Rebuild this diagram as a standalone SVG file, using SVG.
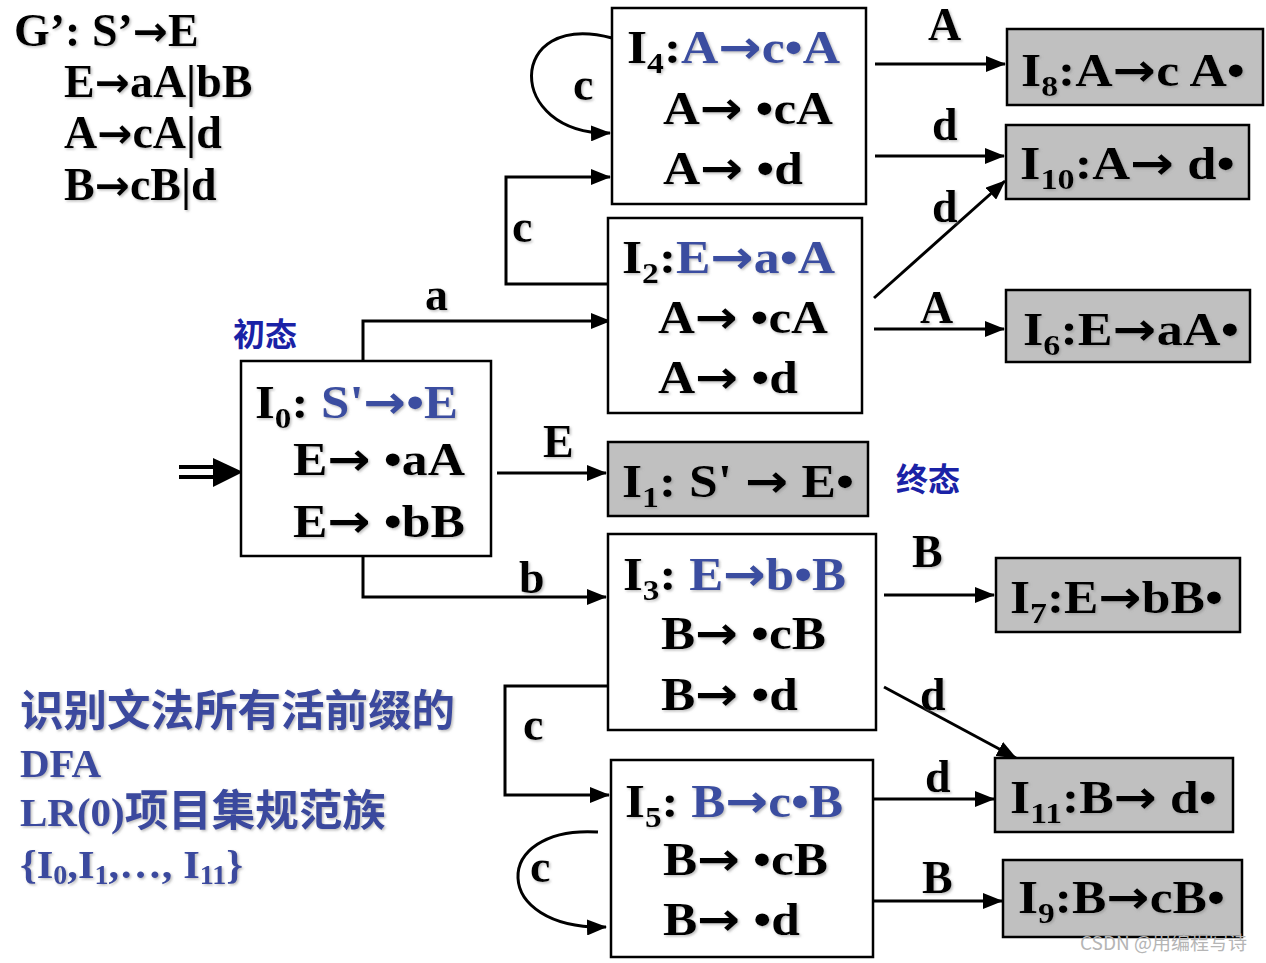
<svg xmlns="http://www.w3.org/2000/svg" width="1266" height="963" viewBox="0 0 1266 963">
<style>
.t{font-family:"Liberation Serif","Times New Roman",serif;font-weight:bold;font-size:46px;fill:#000;filter:url(#sh)}
.g{font-size:46px}
.ga{font-size:42px}
.sub{font-size:30px}
.ar{font-family:"DejaVu Sans",sans-serif;font-weight:bold}
.blue{fill:#3a4ea0}
.lbl{font-family:"Liberation Serif","Times New Roman",serif;font-weight:bold;font-size:46px;fill:#000;filter:url(#sh)}
.cn{font-family:"Noto Sans CJK SC","Noto Sans",sans-serif;font-weight:bold;font-size:32px;fill:#1a22a6}
.note{font-weight:bold;fill:#3a4a9e;filter:url(#sh)}
.ser{font-family:"Liberation Serif","Times New Roman",serif;font-size:41px}
.cjk{font-family:"Noto Sans CJK SC",sans-serif;font-size:43.5px}
.box{fill:#fff;stroke:#000;stroke-width:2.5}
.fin{fill:#c0c0c0;stroke:#000;stroke-width:2.5}
.c{fill:none;stroke:#000;stroke-width:3}
.wm{font-family:"Noto Sans CJK SC","Noto Sans",sans-serif;font-size:19px;fill:#b5b5b5}
</style>
<defs>
<filter id="sh" x="-5%" y="-20%" width="115%" height="150%">
<feDropShadow dx="1.5" dy="1.5" stdDeviation="1" flood-color="#888" flood-opacity="0.55"/>
</filter>
<marker id="ah" viewBox="0 0 20 16" refX="19" refY="8" markerWidth="20" markerHeight="16" markerUnits="userSpaceOnUse" orient="auto">
<path d="M0,0 L20,8 L0,16 z" fill="#000"/>
</marker>
</defs>
<rect width="1266" height="963" fill="#fff"/>

<g id="grammar">
<text class="t g" x="14" y="46">G’: S’<tspan class="ar ga">→</tspan>E</text>
<text class="t g" x="64" y="97">E<tspan class="ar ga">→</tspan>aA|bB</text>
<text class="t g" x="64" y="148">A<tspan class="ar ga">→</tspan>cA|d</text>
<text class="t g" x="64" y="200">B<tspan class="ar ga">→</tspan>cB|d</text>
</g>

<g id="connectors">
<path class="c" d="M363,361 V321 H610" marker-end="url(#ah)"/>
<path class="c" d="M363,556 V597 H606" marker-end="url(#ah)"/>
<path class="c" d="M497,473 H606" marker-end="url(#ah)"/>
<path class="c" d="M608,284 H506 V177 H610" marker-end="url(#ah)"/>
<path class="c" d="M612,38 C505,10 505,135 610,133" marker-end="url(#ah)"/>
<path class="c" d="M613,686 H505 V795 H609" marker-end="url(#ah)"/>
<path class="c" d="M598,832 C490,825 490,930 606,927" marker-end="url(#ah)"/>
<path class="c" d="M875,64 H1005" marker-end="url(#ah)"/>
<path class="c" d="M875,156 H1004" marker-end="url(#ah)"/>
<path class="c" d="M874,298 L1005,181" marker-end="url(#ah)"/>
<path class="c" d="M874,329 H1004" marker-end="url(#ah)"/>
<path class="c" d="M884,595 H994" marker-end="url(#ah)"/>
<path class="c" d="M884,687 L1016,758" marker-end="url(#ah)"/>
<path class="c" d="M873,799 H994" marker-end="url(#ah)"/>
<path class="c" d="M873,901 H1002" marker-end="url(#ah)"/>
<line x1="179" y1="467" x2="216" y2="467" stroke="#000" stroke-width="4"/>
<line x1="179" y1="477" x2="216" y2="477" stroke="#000" stroke-width="4"/>
<path d="M213,458 L243,472 L213,487 z" fill="#000"/>
</g>

<g id="edge-labels">
<text class="lbl" x="425" y="310">a</text>
<text class="lbl" x="543" y="457">E</text>
<text class="lbl" x="519" y="593">b</text>
<text class="lbl" x="512" y="242">c</text>
<text class="lbl" x="573" y="100">c</text>
<text class="lbl" x="523" y="740">c</text>
<text class="lbl" x="530" y="882">c</text>
<text class="lbl" x="928" y="40">A</text>
<text class="lbl" x="932" y="140">d</text>
<text class="lbl" x="932" y="222">d</text>
<text class="lbl" x="920" y="323">A</text>
<text class="lbl" x="912" y="567">B</text>
<text class="lbl" x="920" y="710">d</text>
<text class="lbl" x="925" y="792">d</text>
<text class="lbl" x="922" y="893">B</text>
</g>

<g id="I0">
<rect class="box" x="241" y="361" width="250" height="195"/>
<text class="t" x="255" y="418" textLength="203" lengthAdjust="spacingAndGlyphs">I<tspan class="sub" dy="10">0</tspan><tspan dy="-10">: </tspan><tspan class="blue">S'<tspan class="ar">→</tspan>•E</tspan></text>
<text class="t" x="293" y="475" textLength="172" lengthAdjust="spacingAndGlyphs">E<tspan class="ar">→</tspan> •aA</text>
<text class="t" x="293" y="537" textLength="172" lengthAdjust="spacingAndGlyphs">E<tspan class="ar">→</tspan> •bB</text>
</g>

<g id="I4">
<rect class="box" x="612" y="8" width="254" height="196"/>
<text class="t" x="627" y="63" textLength="213" lengthAdjust="spacingAndGlyphs">I<tspan class="sub" dy="10">4</tspan><tspan dy="-10">:</tspan><tspan class="blue">A<tspan class="ar">→</tspan>c•A</tspan></text>
<text class="t" x="663" y="124" textLength="170" lengthAdjust="spacingAndGlyphs">A<tspan class="ar">→</tspan> •cA</text>
<text class="t" x="663" y="184" textLength="140" lengthAdjust="spacingAndGlyphs">A<tspan class="ar">→</tspan> •d</text>
</g>

<g id="I2">
<rect class="box" x="608" y="218" width="254" height="195"/>
<text class="t" x="622" y="273" textLength="213" lengthAdjust="spacingAndGlyphs">I<tspan class="sub" dy="10">2</tspan><tspan dy="-10">:</tspan><tspan class="blue">E<tspan class="ar">→</tspan>a•A</tspan></text>
<text class="t" x="658" y="333" textLength="170" lengthAdjust="spacingAndGlyphs">A<tspan class="ar">→</tspan> •cA</text>
<text class="t" x="658" y="393" textLength="140" lengthAdjust="spacingAndGlyphs">A<tspan class="ar">→</tspan> •d</text>
</g>

<g id="I1">
<rect class="fin" x="608" y="442" width="260" height="74"/>
<text class="t" x="622" y="497" textLength="232" lengthAdjust="spacingAndGlyphs">I<tspan class="sub" dy="10">1</tspan><tspan dy="-10">: S' </tspan><tspan class="ar">→</tspan> E•</text>
</g>

<g id="I3">
<rect class="box" x="608" y="534" width="268" height="196"/>
<text class="t" x="623" y="590" textLength="223" lengthAdjust="spacingAndGlyphs">I<tspan class="sub" dy="10">3</tspan><tspan dy="-10">: </tspan><tspan class="blue">E<tspan class="ar">→</tspan>b•B</tspan></text>
<text class="t" x="661" y="649" textLength="165" lengthAdjust="spacingAndGlyphs">B<tspan class="ar">→</tspan> •cB</text>
<text class="t" x="661" y="710" textLength="137" lengthAdjust="spacingAndGlyphs">B<tspan class="ar">→</tspan> •d</text>
</g>

<g id="I5">
<rect class="box" x="611" y="760" width="262" height="197"/>
<text class="t" x="625" y="817" textLength="218" lengthAdjust="spacingAndGlyphs">I<tspan class="sub" dy="10">5</tspan><tspan dy="-10">: </tspan><tspan class="blue">B<tspan class="ar">→</tspan>c•B</tspan></text>
<text class="t" x="663" y="875" textLength="165" lengthAdjust="spacingAndGlyphs">B<tspan class="ar">→</tspan> •cB</text>
<text class="t" x="663" y="935" textLength="137" lengthAdjust="spacingAndGlyphs">B<tspan class="ar">→</tspan> •d</text>
</g>

<g id="I8">
<rect class="fin" x="1007" y="29" width="256" height="76"/>
<text class="t" x="1021" y="86" textLength="224" lengthAdjust="spacingAndGlyphs">I<tspan class="sub" dy="10">8</tspan><tspan dy="-10">:A</tspan><tspan class="ar">→</tspan>c A•</text>
</g>

<g id="I10">
<rect class="fin" x="1006" y="125" width="243" height="74"/>
<text class="t" x="1020" y="179" textLength="215" lengthAdjust="spacingAndGlyphs">I<tspan class="sub" dy="10">10</tspan><tspan dy="-10">:A</tspan><tspan class="ar">→</tspan> d•</text>
</g>

<g id="I6">
<rect class="fin" x="1006" y="290" width="244" height="72"/>
<text class="t" x="1023" y="345" textLength="216" lengthAdjust="spacingAndGlyphs">I<tspan class="sub" dy="10">6</tspan><tspan dy="-10">:E</tspan><tspan class="ar">→</tspan>aA•</text>
</g>

<g id="I7">
<rect class="fin" x="996" y="558" width="244" height="74"/>
<text class="t" x="1010" y="613" textLength="213" lengthAdjust="spacingAndGlyphs">I<tspan class="sub" dy="10">7</tspan><tspan dy="-10">:E</tspan><tspan class="ar">→</tspan>bB•</text>
</g>

<g id="I11">
<rect class="fin" x="995" y="758" width="238" height="74"/>
<text class="t" x="1010" y="813" textLength="207" lengthAdjust="spacingAndGlyphs">I<tspan class="sub" dy="10">11</tspan><tspan dy="-10">:B</tspan><tspan class="ar">→</tspan> d•</text>
</g>

<g id="I9">
<rect class="fin" x="1003" y="860" width="239" height="77"/>
<text class="t" x="1018" y="913" textLength="207" lengthAdjust="spacingAndGlyphs">I<tspan class="sub" dy="10">9</tspan><tspan dy="-10">:B</tspan><tspan class="ar">→</tspan>cB•</text>
</g>

<g id="state-notes">
<text class="cn" x="233" y="346">初态</text>
<text class="cn" x="896" y="491">终态</text>
</g>

<g id="caption">
<text class="note cjk" x="20" y="726">识别文法所有活前缀的</text>
<text class="note ser" x="20" y="777">DFA</text>
<text class="note" x="20" y="826"><tspan class="ser">LR(0)</tspan><tspan class="cjk">项目集规范族</tspan></text>
<text class="note ser" x="20" y="878" textLength="223" lengthAdjust="spacingAndGlyphs">{I<tspan font-size="27" dy="6">0</tspan><tspan dy="-6">,I</tspan><tspan font-size="27" dy="6">1</tspan><tspan dy="-6">,…, I</tspan><tspan font-size="27" dy="6">11</tspan><tspan dy="-6">}</tspan></text>
</g>

<text class="wm" x="1080" y="950">CSDN @用编程写诗</text>
</svg>
